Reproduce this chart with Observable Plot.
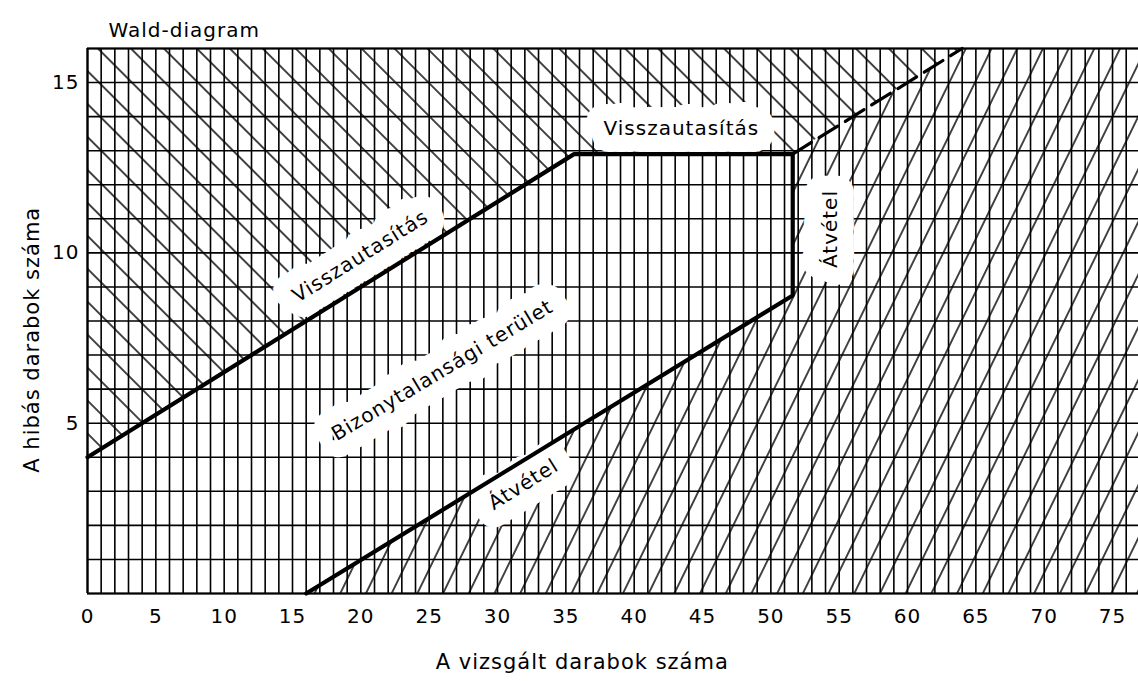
<!DOCTYPE html>
<html>
<head>
<meta charset="utf-8">
<script src="https://cdn.jsdelivr.net/npm/d3@7"></script>
<script src="https://cdn.jsdelivr.net/npm/@observablehq/plot@0.6"></script>
<style>
  body { margin: 0; background: #fff; }
  #chart svg { display: block; }
</style>
</head>
<body>
<div id="chart"></div>
<script>
// Wald sequential sampling plan: inspected pieces (n) vs. defective pieces (d)
const xTickValues = [0, 5, 10, 15, 20, 25, 30, 35, 40, 45, 50, 55, 60, 65, 70, 75];
const yTickValues = [5, 10, 15];

// Rejection boundary: d = 4 + n/4, capped at the truncation level
const rejectN = [0, 35.6, 51.6];
const rejectD = [4, 12.9, 12.9];

// Acceptance boundary: starts at n = 16
const acceptN = [16, 51.6];
const acceptD = [0, 8.75];

// Dashed continuation d = n/4 beyond the truncation point
const extN = [51.6, 64];
const extD = [12.9, 16];

// In-chart annotations
const labelText  = ["Visszautasítás", "Visszautasítás", "Bizonytalansági terület", "Átvétel", "Átvétel"];
const labelN     = [19.97, 43.45, 25.97, 54.4, 31.9];
const labelD     = [9.9, 13.65, 6.55, 10.7, 3.2];
const labelAngle = [-32, 0, -31, -90, -32];

const xMax = 76.9, yMax = 16;
const FONT = '"DejaVu Sans", "Liberation Sans", sans-serif';

// Region outlines assembled from the boundary arrays
const rejectionRegion = rejectN.map((n, i) => ({n, d: rejectD[i]}))
  .concat([{n: extN[1], d: extD[1]}]);
const acceptanceRegion = acceptN.map((n, i) => ({n, d: acceptD[i]}))
  .concat([{n: rejectN[2], d: rejectD[2]}, {n: extN[1], d: extD[1]}, {n: xMax, d: yMax}]);
const boundaryPath = rejectN.map((n, i) => ({n, d: rejectD[i]}))
  .concat(acceptN.map((n, i) => ({n, d: acceptD[i]})).reverse());
const extension = extN.map((n, i) => ({n, d: extD[i]}));
const labels = labelText.map((text, i) => ({text, n: labelN[i], d: labelD[i], angle: labelAngle[i]}));

const chart = Plot.plot({
  width: 1138,
  height: 681,
  marginLeft: 87,
  marginRight: 0,
  marginTop: 48,
  marginBottom: 88,
  x: {domain: [0, xMax]},
  y: {domain: [0, yMax]},
  style: {fontFamily: FONT, fontSize: "20px", color: "black", background: "white", letterSpacing: "1px"},
  marks: [
    Plot.areaY(rejectionRegion, {x: "n", y1: "d", y2: yMax, fill: "url(#hatch-reject)"}),
    Plot.areaY(acceptanceRegion, {x: "n", y1: 0, y2: "d", fill: "url(#hatch-accept)"}),
    Plot.ruleX(d3.range(0, 77), {stroke: "black", strokeWidth: 1.6}),
    Plot.ruleY(d3.range(0, 17), {stroke: "black", strokeWidth: 1.6}),
    Plot.ruleX([0], {stroke: "black", strokeWidth: 2.2}),
    Plot.ruleY([0, yMax], {stroke: "black", strokeWidth: 2.2}),
    Plot.axisX({ticks: xTickValues, tickSize: 0, tickPadding: 15, fontSize: 20, label: null}),
    Plot.axisY({ticks: yTickValues, tickSize: 0, tickPadding: 8, fontSize: 20, label: null}),
    Plot.text(labels, {
      x: "n", y: "d", text: "text", rotate: "angle",
      fontSize: 20, fill: "black",
      stroke: "white", strokeWidth: 34, strokeLinejoin: "round", paintOrder: "stroke"
    }),
    Plot.line(extension, {x: "n", y: "d", stroke: "black", strokeWidth: 3.2, strokeDasharray: "22,9"}),
    Plot.line(boundaryPath, {x: "n", y: "d", stroke: "black", strokeWidth: 4.2, strokeLinejoin: "miter"}),
    Plot.text(["Wald-diagram"], {frameAnchor: "top-left", textAnchor: "start", dx: 21, dy: -26, fontSize: 20}),
    Plot.text(["A vizsgált darabok száma"], {x: 36.2, frameAnchor: "bottom", textAnchor: "middle", dy: 75, fontSize: 21}),
    Plot.text(["A hibás darabok száma"], {y: 7.45, frameAnchor: "left", textAnchor: "middle", dx: -55, rotate: -90, fontSize: 21})
  ]
});

// Hatch patterns used by the rejection and acceptance regions
const defs = d3.create("svg:defs");
function hatch(id, angle, spacing) {
  const p = defs.append("pattern")
    .attr("id", id)
    .attr("patternUnits", "userSpaceOnUse")
    .attr("width", 40)
    .attr("height", spacing)
    .attr("patternTransform", `rotate(${angle})`);
  p.append("line")
    .attr("x1", 0).attr("x2", 40)
    .attr("y1", spacing / 2).attr("y2", spacing / 2)
    .attr("stroke", "black").attr("stroke-width", 1.6);
}
hatch("hatch-reject", 45, 23.3);
hatch("hatch-accept", -64, 23.1);
chart.insertBefore(defs.node(), chart.firstChild);

document.getElementById("chart").append(chart);
</script>
</body>
</html>
